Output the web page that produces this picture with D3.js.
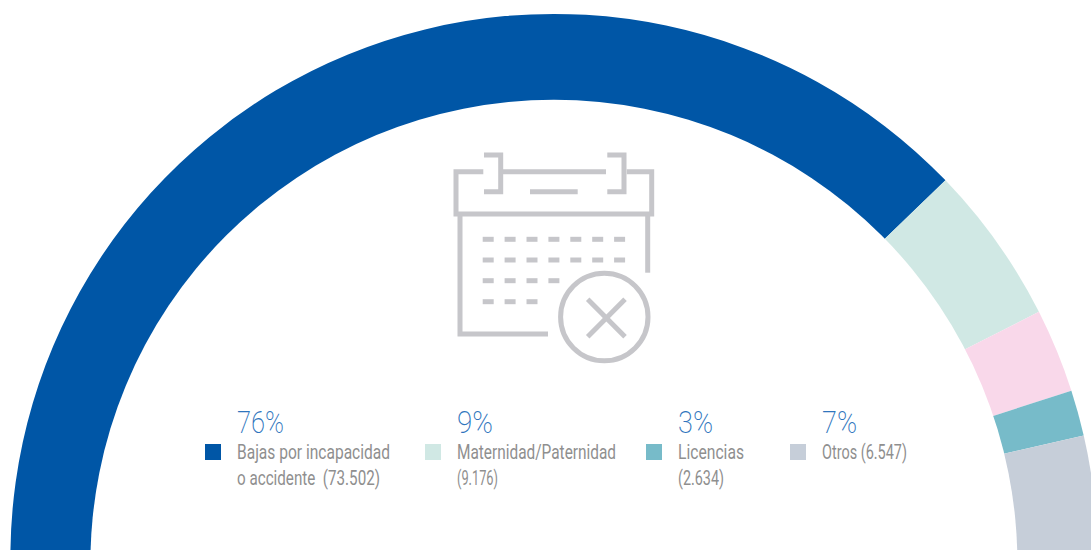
<!DOCTYPE html>
<html lang="es">
<head>
<meta charset="utf-8">
<script src="https://cdn.jsdelivr.net/npm/d3@7/dist/d3.min.js"></script>
<style>
  html, body { margin: 0; padding: 0; background: #fff; overflow: hidden; }
  svg { display: block; }
  text { font-family: "Roboto", "Liberation Sans", sans-serif; }
</style>
</head>
<body>
<div id="chart"></div>
<script>
// Absences by reason; the pink band has no legend entry, so its count is an estimate.
const reasons = ["Bajas por incapacidad o accidente", "Maternidad/Paternidad", "Sin leyenda", "Licencias", "Otros"];
const counts = [73502, 9176, 4840, 2634, 6547];
const colors = ["#0056a6", "#d0e8e4", "#f9d8ea", "#77bbc9", "#c6ced9"];

// Legend content, in reading order.
const legendShares = ["76%", "9%", "3%", "7%"];
const legendLines = [
  ["Bajas por incapacidad", "o accidente  (73.502)"],
  ["Maternidad/Paternidad", "(9.176)"],
  ["Licencias", "(2.634)"],
  ["Otros (6.547)"]
];
const legendColors = ["#0056a6", "#d0e8e4", "#77bbc9", "#c6ced9"];

const width = 1091, height = 550;
const deg = Math.PI / 180;

// The band is thicker at the sides than at the top: the hole sits lower than the outer circle.
const outer = { x: 554, y: 557.5, r: 543.6 };
const hole = { x: 553.9, y: 563.3, r: 463.5 };

const svg = d3.select("#chart").append("svg")
  .attr("width", width).attr("height", height);

const pie = d3.pie().sort(null).startAngle(-90.6 * deg).endAngle(89.2 * deg);
const arc = d3.arc().innerRadius(0).outerRadius(outer.r);

svg.append("g").attr("transform", `translate(${outer.x},${outer.y})`)
  .selectAll("path").data(pie(counts)).join("path")
  .attr("d", arc)
  .attr("fill", (d, i) => colors[i]);

svg.append("circle")
  .attr("cx", hole.x).attr("cy", hole.y).attr("r", hole.r)
  .attr("fill", "#fff");

// Calendar pictogram with a crossed circle.
const iconColor = "#c6c6ca";
const icon = svg.append("g")
  .attr("fill", "none").attr("stroke", iconColor).attr("stroke-width", 5);
const line = d3.line();
[
  [[484,155],[500.7,155],[500.7,191.7],[484,191.7]],
  [[607.3,155],[624,155],[624,191.7],[607.3,191.7]],
  [[500.7,171.7],[606,171.7]],
  [[483.3,171.7],[456,171.7],[456,214],[651.7,214],[651.7,171.7],[626.7,171.7]],
  [[530,191.7],[577.7,191.7]],
  [[460,214],[460,334],[548,334]],
  [[647.7,214],[647.7,272.7]],
  [[587.7,299.3],[625,336.7]],
  [[625,299.3],[587.7,336.7]]
].forEach(p => icon.append("path").attr("d", line(p)));
icon.append("circle").attr("cx", 604.3).attr("cy", 317).attr("r", 43.7);

[[239.3,7],[260,7],[280.7,4],[301.7,3]].forEach(([y, n]) => {
  d3.range(n).forEach(k => {
    const x = 482.7 + k * 21.9;
    icon.append("path").attr("d", line([[x, y], [x + 11, y]]));
  });
});

// Legend columns: swatch, share and wrapped label, fitted to narrow set widths.
const columnX = [237, 457, 678, 822];
const shareWidths = [47, 36, 35, 35];
const lineWidths = [[153, 143], [159, 41], [66, 46], [85]];

const columns = svg.append("g").selectAll("g").data(legendShares).join("g");

columns.append("rect")
  .attr("x", (d, i) => columnX[i] - 32).attr("y", 444)
  .attr("width", 16).attr("height", 16)
  .attr("fill", (d, i) => legendColors[i]);

columns.append("text")
  .attr("x", (d, i) => columnX[i]).attr("y", 433)
  .attr("font-size", 31).attr("font-weight", 200)
  .attr("fill", "#2f75bd")
  .attr("textLength", (d, i) => shareWidths[i])
  .attr("lengthAdjust", "spacingAndGlyphs")
  .text(d => d);

columns.each(function (d, i) {
  d3.select(this).selectAll("text.label").data(legendLines[i]).join("text")
    .attr("class", "label")
    .attr("x", columnX[i])
    .attr("y", (t, j) => 459 + j * 26)
    .attr("font-size", 20.5).attr("font-weight", 400)
    .attr("fill", "#8f8f8f")
    .attr("textLength", (t, j) => lineWidths[i][j])
    .attr("lengthAdjust", "spacingAndGlyphs")
    .style("white-space", "pre")
    .text(t => t);
});
</script>
</body>
</html>
